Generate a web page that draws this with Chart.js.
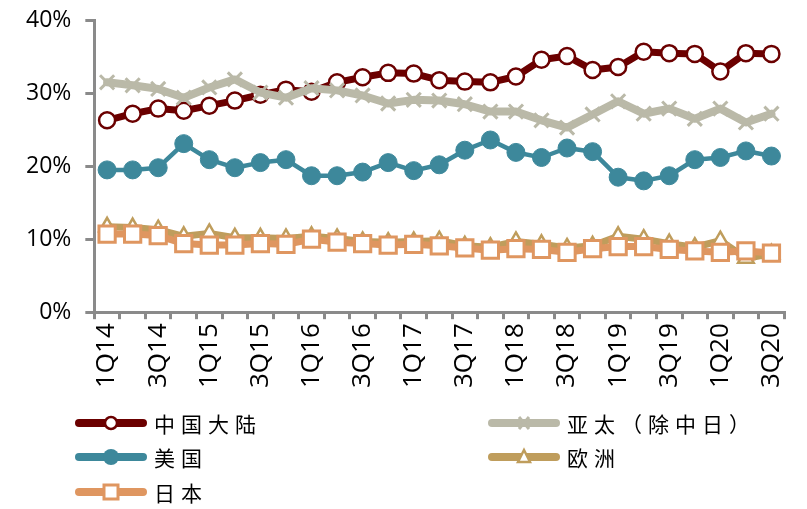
<!DOCTYPE html>
<html>
<head>
<meta charset="utf-8">
<script src="https://cdn.jsdelivr.net/npm/chart.js@4/dist/chart.umd.min.js"></script>
<style>
  html, body { margin: 0; padding: 0; background: #fff; }
  #wrap { position: relative; width: 807px; height: 509px; }
  #chart { position: absolute; left: 0; top: 0; }
  .leg { position: absolute; display: flex; align-items: center; height: 30px;
         font-family: "Noto Sans CJK SC", sans-serif; font-size: 21px; letter-spacing: 6px; color: #000; }
  .leg svg { margin-right: 6px; }
</style>
</head>
<body>
<div id="wrap">
  <canvas id="chart" width="807" height="509"></canvas>
  <div id="legend"></div>
</div>
<script>
// trimestres 1Q14 .. 3Q20
const quarters = ['1Q14','2Q14','3Q14','4Q14','1Q15','2Q15','3Q15','4Q15','1Q16','2Q16','3Q16','4Q16',
  '1Q17','2Q17','3Q17','4Q17','1Q18','2Q18','3Q18','4Q18','1Q19','2Q19','3Q19','4Q19','1Q20','2Q20','3Q20'];

// porcentajes (%)
const chinaMainland = [26.3,27.2,27.9,27.6,28.3,29.0,29.8,30.5,30.2,31.5,32.2,32.8,32.7,31.8,31.6,31.5,
  32.3,34.6,35.1,33.2,33.6,35.7,35.5,35.4,33.0,35.5,35.4];
const asiaPacific = [31.5,31.1,30.6,29.4,30.8,31.9,30.1,29.4,30.7,30.4,29.7,28.6,29.1,29.0,28.5,27.5,
  27.5,26.3,25.3,27.1,28.9,27.2,27.9,26.5,27.9,26.0,27.2];
const usa = [19.5,19.5,19.8,23.1,20.9,19.8,20.5,20.9,18.7,18.7,19.2,20.5,19.4,20.2,22.2,23.6,
  21.9,21.2,22.5,22.0,18.5,18.0,18.7,20.9,21.2,22.1,21.4];
const europe = [11.7,11.6,11.3,10.4,10.8,10.2,10.2,10.1,10.4,10.1,9.7,9.6,9.7,9.8,9.1,8.9,
  9.7,9.3,8.8,9.1,10.4,10.0,9.4,8.9,9.8,7.4,8.0];
const japan = [10.7,10.7,10.5,9.4,9.2,9.2,9.4,9.3,10.0,9.6,9.4,9.2,9.3,9.1,8.8,8.5,
  8.7,8.6,8.2,8.7,9.0,9.0,8.6,8.4,8.2,8.4,8.1];

const yTicks = [0, 10, 20, 30, 40];

const COL = {
  china: '#6b0000',
  asia: '#bab9a8',
  usa: '#3d889b',
  europe: '#bf9d5c',
  japan: '#df9660'
};
const AXIS = '#8a8a8a';

const ctx = document.getElementById('chart');
new Chart(ctx, {
  type: 'line',
  data: {
    labels: quarters,
    datasets: [
      { label: '日本', data: japan, order: 0, borderColor: COL.japan, borderWidth: 7,
        pointStyle: 'rect', pointRadius: 11.5, pointBackgroundColor: '#fff',
        pointBorderColor: COL.japan, pointBorderWidth: 3 },
      { label: '欧洲', data: europe, order: 1, borderColor: COL.europe, borderWidth: 7,
        pointStyle: 'triangle', pointRadius: 9, pointBackgroundColor: '#fff',
        pointBorderColor: COL.europe, pointBorderWidth: 2.5 },
      { label: '亚太（除中日）', data: asiaPacific, order: 2, borderColor: COL.asia, borderWidth: 8,
        pointStyle: 'crossRot', pointRadius: 10, pointBorderColor: COL.asia, pointBorderWidth: 3 },
      { label: '中国大陆', data: chinaMainland, order: 3, borderColor: COL.china, borderWidth: 7,
        pointStyle: 'circle', pointRadius: 8, pointBackgroundColor: '#fff',
        pointBorderColor: COL.china, pointBorderWidth: 2.5 },
      { label: '美国', data: usa, order: 4, borderColor: COL.usa, borderWidth: 4.5,
        pointStyle: 'circle', pointRadius: 9, pointBackgroundColor: COL.usa,
        pointBorderColor: COL.usa, pointBorderWidth: 1 }
    ]
  },
  options: {
    responsive: false,
    animation: false,
    layout: { autoPadding: false, padding: { left: 12, right: 19, top: 0, bottom: 117 } },
    elements: { line: { tension: 0, borderJoinStyle: 'round', borderCapStyle: 'round' } },
    scales: {
      x: {
        offset: true,
        grid: { offset: true, drawOnChartArea: false, drawTicks: true, tickLength: 7, color: AXIS, lineWidth: 3 },
        border: { color: AXIS, width: 3 },
        ticks: {
          autoSkip: false, maxRotation: 90, minRotation: 90, padding: 4,
          color: '#000', font: { family: 'Open Sans', size: 26 },
          callback: (v, i) => (i % 2 === 0 ? quarters[i] : '')
        }
      },
      y: {
        min: 0, max: 40,
        afterBuildTicks: axis => { axis.ticks = yTicks.map(v => ({ value: v })); },
        grid: { drawOnChartArea: false, drawTicks: true, tickLength: 9, color: AXIS, lineWidth: 3 },
        border: { color: AXIS, width: 3 },
        ticks: { color: '#000', padding: 14, font: { family: 'Open Sans', size: 23, lineHeight: 0.55 },
                 callback: v => v + '%' }
      }
    },
    plugins: { legend: { display: false }, tooltip: { enabled: false } }
  }
});

// --- LEYENDA HTML ---
function marker(kind, color) {
  const line = `<line x1="5" y1="15" x2="69" y2="15" stroke="${color}" stroke-width="8" stroke-linecap="round"/>`;
  let m = '';
  if (kind === 'circle') m = `<circle cx="37" cy="15" r="6" fill="#fff" stroke="${color}" stroke-width="2.5"/>`;
  if (kind === 'dot') m = `<circle cx="37" cy="15" r="8" fill="${color}"/>`;
  if (kind === 'rect') m = `<rect x="30" y="8" width="14" height="14" fill="#fff" stroke="${color}" stroke-width="3"/>`;
  if (kind === 'tri') m = `<path d="M37 8 L43 20 L31 20 Z" fill="#fff" stroke="${color}" stroke-width="2.5"/>`;
  if (kind === 'cross') m = `<path d="M32 9 L42 21 M42 9 L32 21" stroke="${color}" stroke-width="3"/>`;
  return `<svg width="74" height="30">${line}${m}</svg>`;
}
const legendItems = [
  { text: '中国大陆', kind: 'circle', color: COL.china, x: 74, y: 408 },
  { text: '美国', kind: 'dot', color: COL.usa, x: 74, y: 442 },
  { text: '日本', kind: 'rect', color: COL.japan, x: 74, y: 477 },
  { text: '亚太（除中日）', kind: 'cross', color: COL.asia, x: 487, y: 408 },
  { text: '欧洲', kind: 'tri', color: COL.europe, x: 487, y: 442 }
];
const legend = document.getElementById('legend');
legendItems.forEach(it => {
  const el = document.createElement('div');
  el.className = 'leg';
  el.style.left = it.x + 'px';
  el.style.top = it.y + 'px';
  el.innerHTML = marker(it.kind, it.color) + `<span>${it.text}</span>`;
  legend.appendChild(el);
});
</script>
</body>
</html>
